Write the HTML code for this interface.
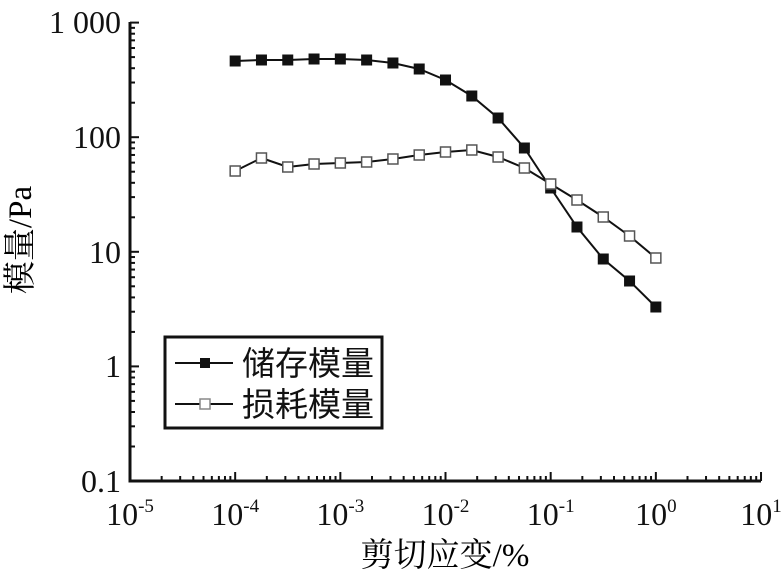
<!DOCTYPE html><html><head><meta charset="utf-8"><style>body{margin:0;background:#fff}</style></head><body>
<svg width="781" height="580" xmlns="http://www.w3.org/2000/svg" font-family="Liberation Serif, Noto Serif CJK SC, serif">
<g stroke="#111" stroke-width="3" fill="none">
<path d="M130,22 V481 H761"/>
</g>
<g stroke="#111" stroke-width="2" id="ticks"></g>
<g font-size="32" fill="#111" text-anchor="end">
<text x="121" y="33">1 000</text><text x="121" y="148">100</text><text x="121" y="263">10</text><text x="121" y="377">1</text><text x="121" y="492">0.1</text>
</g>
<g font-size="32" fill="#111" text-anchor="middle" id="xl"></g>
<text font-size="33" x="445" y="566" text-anchor="middle" font-family="Liberation Serif, Noto Serif CJK SC, serif">剪切应变/%</text>
<text font-size="33" transform="translate(31,240) rotate(-90)" text-anchor="middle">模量/Pa</text>
<polyline id="s" fill="none" stroke="#111" stroke-width="2"/>
<polyline id="l" fill="none" stroke="#111" stroke-width="2"/>
<g id="m"></g>
<rect x="165" y="337" width="217" height="91" fill="#fff" stroke="#111" stroke-width="3"/>
<line x1="175" y1="363" x2="233" y2="363" stroke="#111" stroke-width="2"/>
<rect x="200" y="358" width="10" height="10" fill="#111"/>
<line x1="175" y1="404" x2="233" y2="404" stroke="#111" stroke-width="2"/>
<rect x="200" y="399" width="10" height="10" fill="#fff" stroke="#888" stroke-width="1.5"/>
<g font-size="33" fill="#111" font-family="Noto Sans CJK SC, sans-serif"><text x="242" y="375">储存模量</text><text x="242" y="416">损耗模量</text></g>
</svg>
<script>
var ns="http://www.w3.org/2000/svg",t=document.getElementById('ticks'),xl=document.getElementById('xl');
function L(x1,y1,x2,y2){var e=document.createElementNS(ns,'line');e.setAttribute('x1',x1);e.setAttribute('y1',y1);e.setAttribute('x2',x2);e.setAttribute('y2',y2);t.appendChild(e);}
var D=105.17,Y=114.6;
for(var d=0;d<6;d++){for(var k=2;k<=10;k++){var x=130+D*(d+Math.log10(k));L(x,481,x,k==10?472:476);}}
for(var d=0;d<4;d++){for(var k=2;k<=10;k++){var y=481-Y*(d+Math.log10(k));L(130,y,k==10?139:135,y);}}
var ex=['-5','-4','-3','-2','-1','0','1'];
for(var i=0;i<7;i++){var e=document.createElementNS(ns,'text');e.setAttribute('x',130+D*i);e.setAttribute('y',525);e.innerHTML='10<tspan font-size="19" dy="-13">'+ex[i]+'</tspan>';xl.appendChild(e);}
var sy=[61,60,60,59,59,60,63,69,80,96,118,148,188,227,259,281,307],ly=[171,158,167,164,163,162,159,155,152,150,157,168,184,200,217,236,258];
var sp='',lp='',m=document.getElementById('m'),h='';
for(var i=0;i<17;i++){var x=130+D*(1+i*0.25);sp+=x+','+sy[i]+' ';lp+=x+','+ly[i]+' ';
h+='<rect x="'+(x-5.5)+'" y="'+(sy[i]-5.5)+'" width="11" height="11" fill="#111"/>';
h+='<rect x="'+(x-5)+'" y="'+(ly[i]-5)+'" width="10" height="10" fill="#fff" stroke="#555" stroke-width="1.5"/>';}
document.getElementById('s').setAttribute('points',sp);document.getElementById('l').setAttribute('points',lp);m.innerHTML=h;
</script>
</body></html>
